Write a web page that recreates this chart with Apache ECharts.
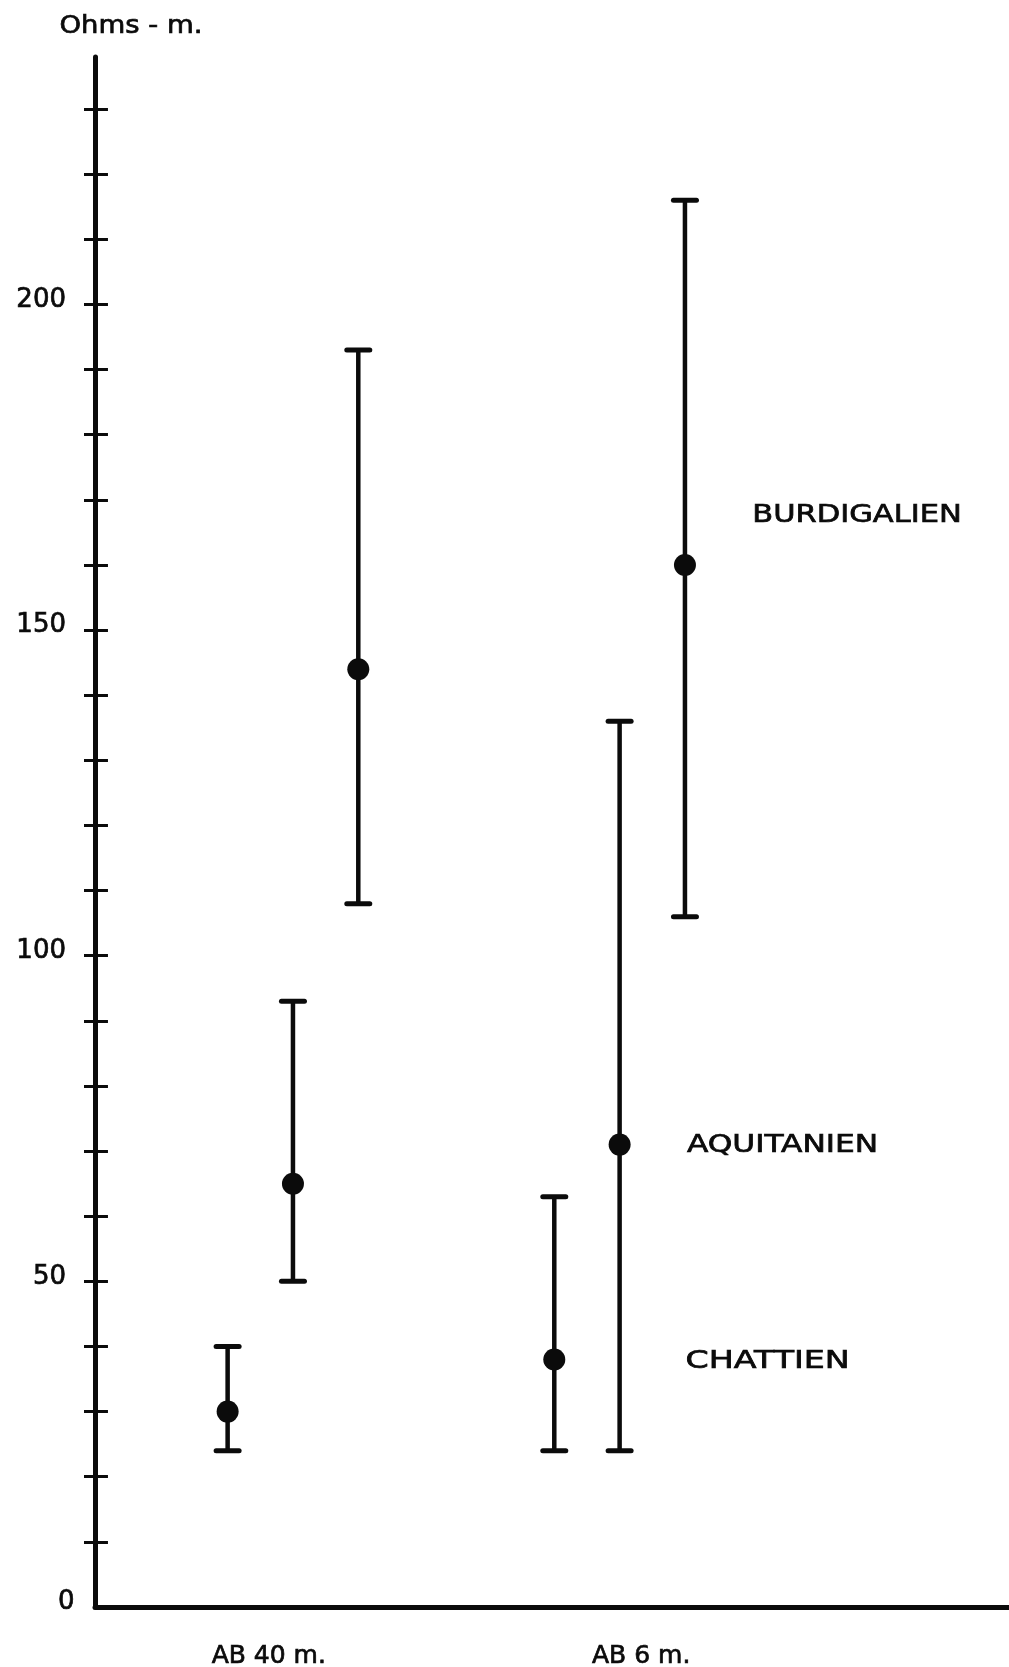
<!DOCTYPE html>
<html>
<head>
<meta charset="utf-8">
<script src="https://cdn.jsdelivr.net/npm/echarts@6/dist/echarts.min.js"></script>
<style>
html,body{margin:0;padding:0;background:#fff;}
#chart{width:1009px;height:1667px;}
</style>
</head>
<body>
<div id="chart"></div>
<script>
// ---- data ----
const groups = ['AB 40 m.', 'AB 6 m.'];
const groupLabelX = [2.63, 8.33];
const xPos = [2, 3, 4, 7, 8, 9];
const centers = [30, 65, 144, 38, 71, 160];
const highs = [40, 93, 193, 63, 136, 216];
const lows = [24, 50, 108, 24, 24, 106];
const stages = ['CHATTIEN', 'AQUITANIEN', 'BURDIGALIEN'];
const stageX = [9.01, 9.03, 10.03];
const stageY = [38.2, 71.3, 168.1];
const stageScale = [1.33, 1.25, 1.22];
const yTicks = [10,20,30,40,50,60,70,80,90,100,110,120,130,140,150,160,170,180,190,200,210,220,230];
const yLabels = [0, 50, 100, 150, 200];
const yTitle = 'Ohms - m.';

const FONT = 'DejaVu Sans';
const INK = '#0b0b0b';
const BOLDEN = 0.7;

const chart = echarts.init(document.getElementById('chart'), null, {renderer: 'canvas'});

const barData = xPos.map((x, i) => [x, lows[i], highs[i], centers[i]]);
const stageData = stages.map((s, i) => [stageX[i], stageY[i], i]);

chart.setOption({
  animation: false,
  backgroundColor: '#ffffff',
  grid: {left: 95, right: 0, top: 57, bottom: 60, containLabel: false, outerBoundsMode: 'none'},
  graphic: [{
    type: 'text', left: 59, top: 14, scaleX: 1.1,
    style: {text: yTitle, font: '25px "' + FONT + '"', fill: INK, stroke: INK, lineWidth: BOLDEN}
  }],
  xAxis: {
    type: 'value', min: -0.03, max: 13.96,
    splitLine: {show: false},
    axisLine: {show: true, onZero: false, lineStyle: {color: INK, width: 5}},
    axisTick: {show: false},
    axisLabel: {
      show: true, customValues: groupLabelX, margin: 37,
      fontFamily: FONT, fontSize: 25, color: INK,
      textBorderColor: INK, textBorderWidth: BOLDEN,
      formatter: function (v) {
        const i = groupLabelX.findIndex(g => Math.abs(g - v) < 1e-6);
        return i >= 0 ? groups[i] : '';
      }
    }
  },
  yAxis: [{
    type: 'value', min: 0, max: 238, position: 'left',
    splitLine: {show: false},
    axisLine: {show: true, onZero: false, lineStyle: {color: INK, width: 5}},
    axisTick: {show: true, customValues: yTicks, length: 11, lineStyle: {color: INK, width: 3}},
    axisLabel: {
      show: true, customValues: yLabels, margin: 29,
      fontFamily: FONT, fontSize: 26, color: INK,
      textBorderColor: INK, textBorderWidth: BOLDEN,
      verticalAlign: 'bottom', lineHeight: 9,
      formatter: function (v) { return v === 0 ? '{z|0}' : String(v); },
      rich: {
        z: {width: 8, align: 'left', fontFamily: FONT, fontSize: 26, color: INK,
            textBorderColor: INK, textBorderWidth: BOLDEN, lineHeight: 9}
      }
    }
  }, {
    type: 'value', min: 0, max: 238, position: 'left',
    splitLine: {show: false},
    axisLine: {show: false},
    axisTick: {show: true, inside: true, customValues: yTicks, length: 11, lineStyle: {color: INK, width: 3}},
    axisLabel: {show: false}
  }],
  series: [{
    type: 'custom',
    name: 'resistivity',
    coordinateSystem: 'cartesian2d',
    xAxisIndex: 0, yAxisIndex: 0,
    data: barData,
    renderItem: function (params, api) {
      const x = api.value(0), lo = api.value(1), hi = api.value(2), c = api.value(3);
      const pLo = api.coord([x, lo]);
      const pHi = api.coord([x, hi]);
      const pC = api.coord([x, c]);
      const hw = 11.5;
      const st = {stroke: INK, lineWidth: 5, lineCap: 'round'};
      return {
        type: 'group',
        children: [
          {type: 'line', shape: {x1: pLo[0], y1: pLo[1], x2: pHi[0], y2: pHi[1]}, style: {stroke: INK, lineWidth: 4.5}},
          {type: 'line', shape: {x1: pHi[0] - hw, y1: pHi[1], x2: pHi[0] + hw, y2: pHi[1]}, style: st},
          {type: 'line', shape: {x1: pLo[0] - hw, y1: pLo[1], x2: pLo[0] + hw, y2: pLo[1]}, style: st},
          {type: 'circle', shape: {cx: pC[0], cy: pC[1], r: 11}, style: {fill: INK}}
        ]
      };
    }
  }, {
    type: 'custom',
    name: 'stages',
    coordinateSystem: 'cartesian2d',
    xAxisIndex: 0, yAxisIndex: 0,
    data: stageData,
    renderItem: function (params, api) {
      const p = api.coord([api.value(0), api.value(1)]);
      const i = api.value(2);
      return {
        type: 'text', x: p[0], y: p[1] + 3, scaleX: stageScale[i],
        style: {text: stages[i], font: '25px "' + FONT + '"', fill: INK, stroke: INK, lineWidth: BOLDEN, align: 'left', verticalAlign: 'middle'}
      };
    }
  }]
});
</script>
</body>
</html>
